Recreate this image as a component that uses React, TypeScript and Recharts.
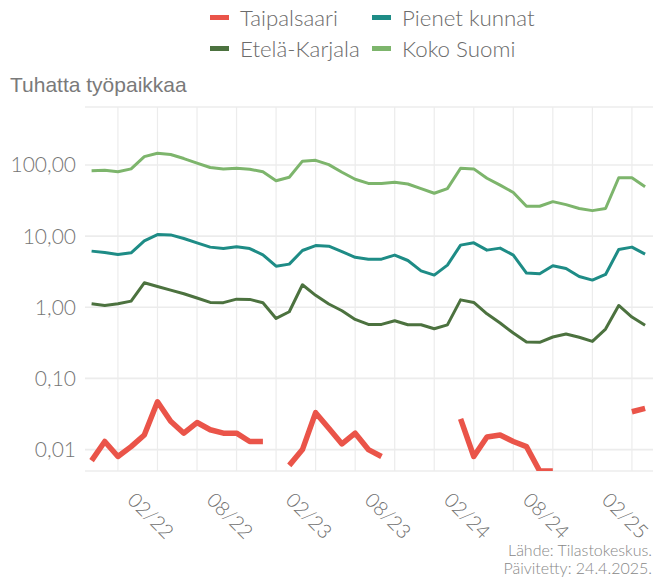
import React from 'react';
import { LineChart, Line, XAxis, YAxis, CartesianGrid, ReferenceLine } from 'recharts';

// month index 0 = 09/2021 ... 42 = 03/2025
const months = [
  '09/21', '10/21', '11/21', '12/21', '01/22', '02/22', '03/22', '04/22', '05/22', '06/22', '07/22', '08/22',
  '09/22', '10/22', '11/22', '12/22', '01/23', '02/23', '03/23', '04/23', '05/23', '06/23', '07/23', '08/23',
  '09/23', '10/23', '11/23', '12/23', '01/24', '02/24', '03/24', '04/24', '05/24', '06/24', '07/24', '08/24',
  '09/24', '10/24', '11/24', '12/24', '01/25', '02/25', '03/25',
];

const taipalsaari = [
  0.007, 0.013, 0.008, 0.011, 0.016, 0.047, 0.025, 0.017, 0.024, 0.019, 0.017, 0.017, 0.013, 0.013, null,
  0.006, 0.01, 0.033, 0.02, 0.012, 0.017, 0.01, 0.008, null, null, null, null, null, 0.027, 0.008, 0.015,
  0.016, 0.013, 0.011, 0.005, 0.005, null, null, null, null, null, 0.034, 0.038,
];
const pienetKunnat = [
  6.15, 5.87, 5.51, 5.82, 8.58, 10.5, 10.4, 9.25, 8.04, 7.0, 6.68, 7.06, 6.68, 5.46, 3.78, 4.04, 6.27, 7.36,
  7.22, 6.07, 5.03, 4.74, 4.74, 5.41, 4.54, 3.25, 2.83, 3.91, 7.47, 8.04, 6.35, 6.78, 5.41, 3.02, 2.95, 3.82,
  3.51, 2.7, 2.41, 2.89, 6.48, 7.0, 5.58,
];
const etelaKarjala = [
  1.12, 1.06, 1.12, 1.22, 2.21, 1.96, 1.74, 1.55, 1.35, 1.17, 1.16, 1.3, 1.29, 1.16, 0.697, 0.865, 2.07, 1.47,
  1.11, 0.893, 0.675, 0.574, 0.574, 0.647, 0.568, 0.568, 0.499, 0.565, 1.27, 1.17, 0.81, 0.6, 0.434, 0.325,
  0.322, 0.382, 0.421, 0.379, 0.331, 0.494, 1.06, 0.728, 0.56,
];
const kokoSuomi = [
  83, 84, 80, 88, 131, 146, 140, 123, 106, 92, 88, 90, 87, 80, 60, 67, 113, 116, 101, 79, 63, 55, 55, 57, 54,
  46.5, 40, 46.5, 90, 88, 65, 52, 41, 26.3, 26.3, 30.5, 27.7, 24.4, 22.8, 24.4, 66, 66, 49.5,
];

const xTickLabels = ['02/22', '08/22', '02/23', '08/23', '02/24', '08/24', '02/25'];
const yTicks = [0.01, 0.1, 1, 10, 100];

const series = [
  { key: 'taipalsaari', name: 'Taipalsaari', color: '#ea5449', width: 5.5 },
  { key: 'pienet', name: 'Pienet kunnat', color: '#1e8c86', width: 3 },
  { key: 'ekarjala', name: 'Etelä-Karjala', color: '#4c723f', width: 3 },
  { key: 'suomi', name: 'Koko Suomi', color: '#7db56c', width: 3 },
];

const data = months.map((m, i) => ({
  t: i,
  month: m,
  taipalsaari: taipalsaari[i],
  pienet: pienetKunnat[i],
  ekarjala: etelaKarjala[i],
  suomi: kokoSuomi[i],
}));

const majorTicks = xTickLabels.map((l) => months.indexOf(l));
const gridX = months.map((_, i) => i).filter((i) => (i - 2) % 3 === 0);

const FONT = 'Lato, "Open Sans", sans-serif';

const XTick = ({ x, y, payload }: any) => (
  <text
    transform={`translate(${x - 6},${y + 42}) rotate(45)`}
    textAnchor="middle"
    dominantBaseline="central"
    fill="#707070"
    style={{ fontSize: 20, fontFamily: FONT, fontWeight: 300 }}
  >
    {months[payload.value]}
  </text>
);

export default function App() {
  return (
    <div
      style={{
        position: 'absolute',
        left: 0,
        top: 0,
        width: 653,
        height: 579,
        background: '#fff',
        fontFamily: FONT,
      }}
    >
      {/* legend */}
      {series.map((s, i) => {
        const col = i % 2;
        const row = Math.floor(i / 2);
        return (
          <div
            key={s.key}
            style={{
              position: 'absolute',
              left: col === 0 ? 210 : 372,
              top: row === 0 ? 3 : 34,
              height: 28,
              display: 'flex',
              alignItems: 'center',
            }}
          >
            <div style={{ width: 19, height: 5, background: s.color, marginRight: 11 }} />
            <span style={{ fontSize: 22.3, fontWeight: 300, color: '#6b6b6b' }}>{s.name}</span>
          </div>
        );
      })}
      <div
        style={{
          position: 'absolute',
          left: 10,
          top: 73,
          fontSize: 21,
          color: '#7a7a7a',
          fontFamily: '"Liberation Sans", Arial, sans-serif',
        }}
      >
        Tuhatta työpaikkaa
      </div>

      <LineChart
        width={653}
        height={579}
        data={data}
        margin={{ top: 107, right: 0, bottom: 48, left: 0 }}
      >
        <CartesianGrid vertical={false} stroke="#ececec" strokeWidth={1.6} />
        {gridX.map((g) => (
          <ReferenceLine key={g} x={g} stroke="#ececec" strokeWidth={1.2} />
        ))}
        <XAxis
          dataKey="t"
          type="number"
          domain={[-0.5, 42.6]}
          ticks={majorTicks}
          interval={0}
          tick={<XTick />}
          tickLine={false}
          axisLine={false}
          tickSize={0}
          height={60}
          allowDataOverflow
        />
        <YAxis
          scale="log"
          domain={[0.005, 652]}
          ticks={yTicks}
          tickFormatter={(v: number) => v.toFixed(2).replace('.', ',')}
          tick={{ fill: '#757575', fontSize: 21, fontWeight: 300, fontFamily: FONT }}
          tickLine={false}
          axisLine={false}
          tickSize={0}
          tickMargin={9}
          width={85}
          allowDataOverflow
          interval={0}
        />
        {series.map((s) => (
          <Line
            key={s.key}
            dataKey={s.key}
            name={s.name}
            stroke={s.color}
            strokeWidth={s.width}
            dot={false}
            activeDot={false}
            isAnimationActive={false}
            strokeLinejoin="round"
          />
        ))}
      </LineChart>

      <div
        style={{
          position: 'absolute',
          right: 1,
          top: 541,
          textAlign: 'right',
          fontSize: 16,
          lineHeight: '18px',
          fontWeight: 300,
          color: '#888',
        }}
      >
        Lähde: Tilastokeskus.
        <br />
        Päivitetty: 24.4.2025.
      </div>
    </div>
  );
}
